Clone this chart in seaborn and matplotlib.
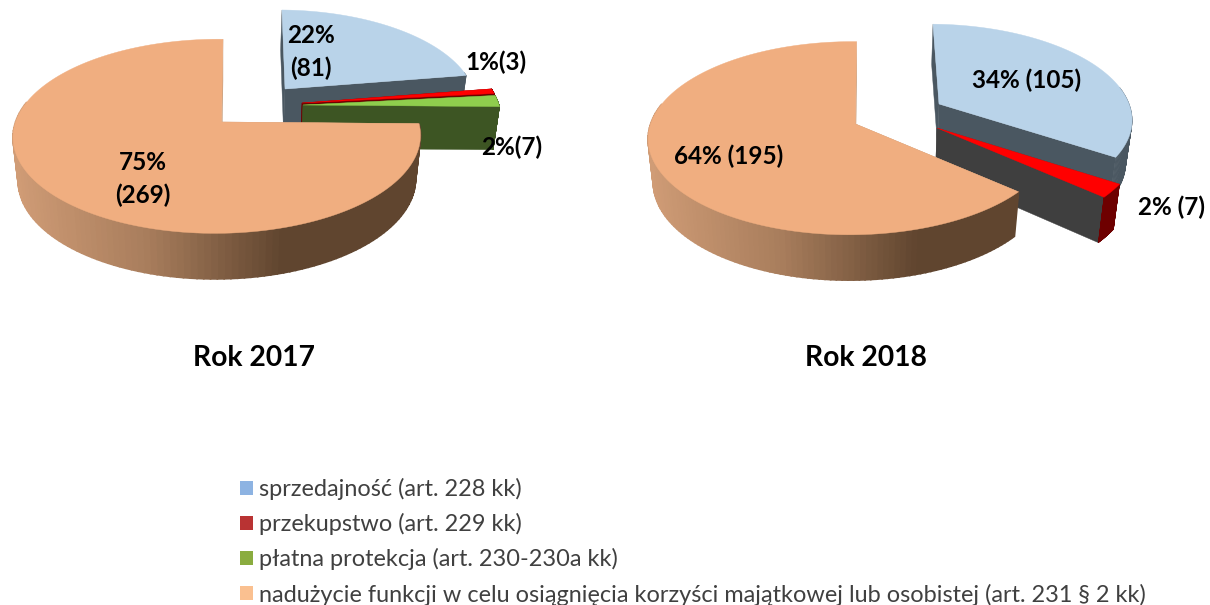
import numpy as np
import matplotlib
matplotlib.use("Agg")
import matplotlib.pyplot as plt
from matplotlib.patches import Patch
import seaborn as sns

# data
categories = ["sprzedajność (art. 228 kk)", "przekupstwo (art. 229 kk)",
              "płatna protekcja (art. 230-230a kk)",
              "nadużycie funkcji w celu osiągnięcia korzyści majątkowej lub osobistej (art. 231 § 2 kk)"]
values_2017 = [81, 3, 7, 269]
values_2018 = [105, 7, 0, 195]
labels_2017 = ["22%\n(81)", "1%(3)", "2%(7)", "75%\n(269)"]
labels_2018 = ["34% (105)", "2% (7)", "", "64% (195)"]
titles = ["Rok 2017", "Rok 2018"]

# styles
top_colors = ["#b9d3e9", "#ff0000", "#8fce4d", "#f0ae80"]
legend_colors = ["#8db3e2", "#b93333", "#8aac3f", "#fac090"]
wall_colors = ["#4a5761", "#6e0000", "#3d5523", None]
face_2017 = ["#4a5761", "#6e0000", "#3d5523", "#c49a78"]
face_2018 = ["#4a5761", "#3f3f3f", "#3f3f3f", "#c49a78"]
orange_ramp = sns.blend_palette(["#d09c76", "#a87d5c", "#60452f", "#60452f"], 400)

# pixel layout of each pie: apex, scale and skew of the pulled out slices
apex_2017 = [(285, 89), (302, 103), (303, 105), (221.5, 122)]
scale_2017 = [0.94, 0.98, 0.98, 0.985]
skew_2017 = [-3, 0, 0, 1.5]
apex_2018 = [(939, 104), (937, 128), (937, 128), (855.5, 124)]
scale_2018 = [0.95, 1.0, 1.0, 0.98]
skew_2018 = [-6, 0, 0, 1]
label_xy_2017 = [(311, 52), (496, 62), (512, 147), (143, 179)]
label_xy_2018 = [(1027, 80), (1172, 207), (0, 0), (729, 156)]
title_x = [254, 866]

RX, RY, P, Q = 204.5, 96.4, 0.147, 0.022
DEPTH, KX, KY = 44, 0.975, 1.02
SHIFT = -1.5


def rim(theta, apex, s, skew):
    X, Y = np.cos(theta), np.sin(theta)
    w = 1 + P * Y + Q * X
    return apex[0] + s * RX * X / w + skew * Y, apex[1] - s * RY * Y / w


def lower(x, y, apex, s, shift):
    return apex[0] + KX * (x - apex[0]) + shift, apex[1] + KY * (y - apex[1]) + DEPTH * s


def draw_slice(ax, t0, t1, apex, s, skew, top, wall, face, shift):
    # t0 > t1, going clockwise on the picture
    th = np.linspace(t0, t1, 160)
    x, y = rim(th, apex, s, skew)
    xb, yb = lower(x, y, apex, s, shift)
    ab = lower(apex[0], apex[1], apex, s, shift)
    # radial faces
    ax.fill([apex[0], x[0], xb[0], ab[0]], [apex[1], y[0], yb[0], ab[1]], color=face, lw=0.3, zorder=ax.z)
    ax.fill([apex[0], x[-1], xb[-1], ab[0]], [apex[1], y[-1], yb[-1], ab[1]], color=face, lw=0.3, zorder=ax.z)
    # outer wall, piece by piece so the shading can follow x; back of the rim stays hidden
    for i in range(len(th) - 1):
        if np.sin(th[i]) > 0.2:
            continue
        if wall is None:
            pos = np.clip((x[i] - 12 - (apex[0] - 221.5)) / 410, 0, 1)
            c, lw = orange_ramp[int(pos * 399)], 1.2
        else:
            c, lw = wall, 0.4
        ax.fill([x[i], x[i + 1], xb[i + 1], xb[i]], [y[i], y[i + 1], yb[i + 1], yb[i]],
                color=c, lw=lw, zorder=ax.z)
    ax.fill(np.r_[apex[0], x], np.r_[apex[1], y], color=top, lw=0.3, zorder=ax.z + 0.5)
    ax.z += 1


def draw_pie(ax, values, apexes, scales, skews, faces):
    values = np.array(values, dtype=float)
    angles = np.pi / 2 - np.r_[0, np.cumsum(values)] / values.sum() * 2 * np.pi
    for i in range(len(values)):
        if values[i] == 0:
            continue
        shift = 0.0 if i == 3 else SHIFT
        draw_slice(ax, angles[i], angles[i + 1], apexes[i], scales[i], skews[i],
                   top_colors[i], wall_colors[i], faces[i], shift)


sns.set_theme(style="white")
plt.rcParams["font.family"] = ["Lato", "DejaVu Sans"]

fig = plt.figure(figsize=(12.1, 6.05), dpi=100)
ax = fig.add_axes([0, 0, 1, 1])
ax.set_xlim(0, 1210)
ax.set_ylim(605, 0)
ax.axis("off")
ax.z = 1

draw_pie(ax, values_2017, apex_2017, scale_2017, skew_2017, face_2017)
draw_pie(ax, values_2018, apex_2018, scale_2018, skew_2018, face_2018)

for labels, spots in [(labels_2017, label_xy_2017), (labels_2018, label_xy_2018)]:
    for lab, (lx, ly) in zip(labels, spots):
        if lab:
            ax.text(lx, ly, lab, ha="center", va="center", fontsize=17.5, fontweight="bold",
                    color="black", linespacing=1.5, zorder=100)

for t, tx in zip(titles, title_x):
    ax.text(tx, 358, t, ha="center", va="center", fontsize=20.3, fontweight="bold", color="black", zorder=100)

handles = [Patch(facecolor=c, edgecolor="none") for c in legend_colors]
leg = fig.legend(handles, categories, loc="upper left", bbox_to_anchor=(230.6 / 1210, 1 - 468.5 / 605),
                 frameon=False, fontsize=16.9, labelcolor="#404040", labelspacing=0.56,
                 handlelength=0.55, handleheight=0.55, handletextpad=0.26, borderpad=0.4, borderaxespad=0)

fig.savefig("out.png", dpi=100)
